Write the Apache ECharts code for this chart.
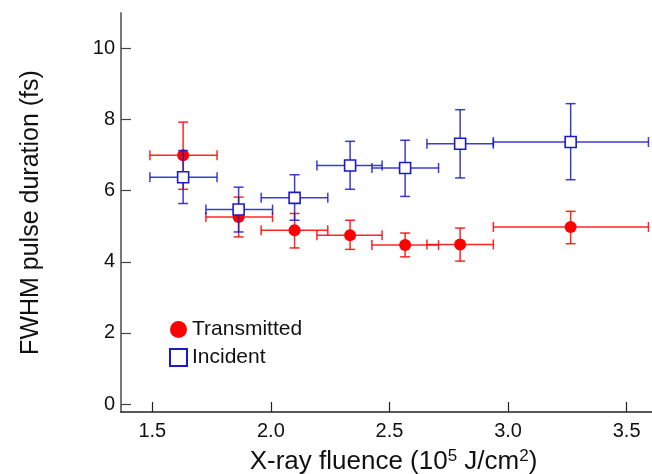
<!DOCTYPE html>
<html><head><meta charset="utf-8">
<script src="https://cdn.jsdelivr.net/npm/echarts@6/dist/echarts.min.js"></script>
<style>html,body{margin:0;padding:0;background:#fff}#c{width:652px;height:474px}</style>
</head><body><div id="c"></div>
<script>
// X-ray fluence (10^5 J/cm^2): centre and horizontal error-bar ends
const fluence     = [1.63, 1.864, 2.10, 2.334, 2.566, 2.798, 3.264];
const fluenceLow  = [1.49, 1.726, 1.959, 2.194, 2.426, 2.658, 2.938];
const fluenceHigh = [1.773, 2.007, 2.240, 2.469, 2.707, 2.938, 3.592];

// Transmitted pulse duration (fs)
const transmitted     = [7.00, 5.26, 4.89, 4.75, 4.47, 4.49, 4.98];
const transmittedLow  = [6.04, 4.70, 4.39, 4.35, 4.14, 4.02, 4.51];
const transmittedHigh = [7.93, 5.82, 5.36, 5.17, 4.81, 4.95, 5.42];

// Incident pulse duration (fs)
const incident     = [6.38, 5.47, 5.80, 6.71, 6.64, 7.32, 7.37];
const incidentLow  = [5.64, 4.84, 5.17, 6.04, 5.84, 6.36, 6.31];
const incidentHigh = [7.13, 6.10, 6.45, 7.39, 7.42, 8.28, 8.45];

const xTicks = [1.5, 2.0, 2.5, 3.0, 3.5];
const yTicks = [0, 2, 4, 6, 8, 10];

const RED = '#ff0000';
const BLUE = '#1a1acc';
const FONT = "'Liberation Sans', Arial, Helvetica, sans-serif";

function points(ys) { return fluence.map((x, i) => [x, ys[i]]); }
function errData(ys, lo, hi) {
  return fluence.map((x, i) => [x, ys[i], fluenceLow[i], fluenceHigh[i], lo[i], hi[i]]);
}
function errRenderer(color) {
  return function (params, api) {
    const c = api.coord([api.value(0), api.value(1)]);
    const l = api.coord([api.value(2), api.value(1)]);
    const r = api.coord([api.value(3), api.value(1)]);
    const lo = api.coord([api.value(0), api.value(4)]);
    const hi = api.coord([api.value(0), api.value(5)]);
    const cap = 5;
    const style = { stroke: color, lineWidth: 1.5, opacity: 0.85 };
    const line = (x1, y1, x2, y2) => ({ type: 'line', shape: { x1, y1, x2, y2 }, style });
    return {
      type: 'group',
      children: [
        line(l[0], c[1], r[0], c[1]),
        line(l[0], c[1] - cap, l[0], c[1] + cap),
        line(r[0], c[1] - cap, r[0], c[1] + cap),
        line(c[0], hi[1], c[0], lo[1]),
        line(c[0] - cap, hi[1], c[0] + cap, hi[1]),
        line(c[0] - cap, lo[1], c[0] + cap, lo[1])
      ]
    };
  };
}

const chart = echarts.init(document.getElementById('c'), null, { renderer: 'canvas' });
chart.setOption({
  animation: false,
  backgroundColor: '#fff',
  textStyle: { fontFamily: FONT },
  grid: { left: 121, right: 0, top: 13, bottom: 62, containLabel: false, outerBoundsMode: 'none' },
  legend: {
    orient: 'vertical',
    left: 164, top: 314,
    itemWidth: 17, itemHeight: 17, itemGap: 7,
    data: ['Transmitted', 'Incident'],
    textStyle: { fontSize: 21, color: '#111', fontFamily: FONT }
  },
  xAxis: {
    type: 'value', min: 1.368, max: 3.607,
    splitLine: { show: false },
    axisLine: { show: true, onZero: false, lineStyle: { color: '#222', width: 1.5 } },
    axisTick: { show: true, inside: true, length: 10, customValues: xTicks, lineStyle: { color: '#222', width: 1.2 } },
    axisLabel: { customValues: xTicks, formatter: v => v.toFixed(1), fontSize: 20, color: '#111', margin: 9, fontFamily: FONT },
    name: '{a|X-ray fluence (10}{s|5}{a| J/cm}{s|2}{a|)}',
    nameLocation: 'middle', nameGap: 36,
    nameTextStyle: {
      padding: [0, 0, 0, 14],
      rich: {
        a: { fontSize: 26, lineHeight: 28, color: '#111', fontFamily: FONT },
        s: { fontSize: 17, lineHeight: 18, verticalAlign: 'top', color: '#111', fontFamily: FONT }
      }
    }
  },
  yAxis: {
    type: 'value', min: -0.225, max: 11,
    splitLine: { show: false },
    axisLine: { show: true, onZero: false, lineStyle: { color: '#777', width: 2 } },
    axisTick: { show: true, inside: true, length: 10, customValues: yTicks, lineStyle: { color: '#444', width: 1.2 } },
    axisLabel: { customValues: yTicks, fontSize: 20, color: '#111', margin: 6, fontFamily: FONT },
    name: 'FWHM pulse duration (fs)',
    nameLocation: 'middle', nameRotate: 90, nameGap: 77,
    nameTextStyle: { fontSize: 25, color: '#111', fontFamily: FONT }
  },
  series: [
    {
      type: 'custom', name: 'tErr', z: 1, renderItem: errRenderer(RED),
      data: errData(transmitted, transmittedLow, transmittedHigh),
      encode: { x: [0, 2, 3], y: [1, 4, 5] }, silent: true
    },
    {
      type: 'scatter', name: 'Transmitted', z: 2, symbol: 'circle', symbolSize: 12,
      itemStyle: { color: RED, opacity: 1 },
      data: points(transmitted)
    },
    {
      type: 'custom', name: 'iErr', z: 3, renderItem: errRenderer(BLUE),
      data: errData(incident, incidentLow, incidentHigh),
      encode: { x: [0, 2, 3], y: [1, 4, 5] }, silent: true
    },
    {
      type: 'scatter', name: 'Incident', z: 4, symbol: 'rect', symbolSize: 11,
      itemStyle: { color: '#fff', borderColor: BLUE, borderWidth: 1.6, opacity: 1 },
      data: points(incident)
    }
  ]
});
</script></body></html>
